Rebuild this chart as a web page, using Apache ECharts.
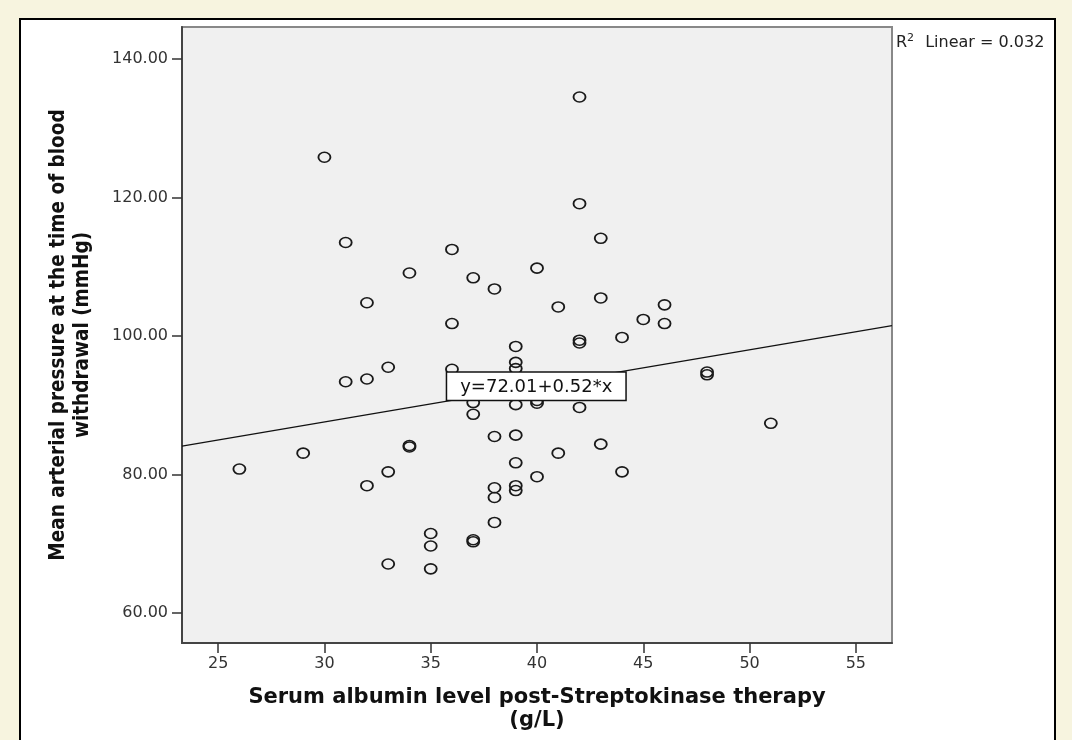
<!DOCTYPE html>
<html>
<head>
<meta charset="utf-8">
<title>Serum albumin vs mean arterial pressure</title>
<script src="https://cdn.jsdelivr.net/npm/echarts@6/dist/echarts.min.js"></script>
<style>
  html, body { margin: 0; padding: 0; background: #f7f4df; }
  #main { width: 1072px; height: 740px; }
</style>
</head>
<body>
<div id="main"></div>
<script>
// 数据：散点（白蛋白 g/L，平均动脉压 mmHg）
var albumin = [
  26, 29, 30, 31, 31, 32, 32, 32, 33, 33, 33, 34, 34, 34,
  35, 35, 35, 36, 36, 36, 37, 37, 37, 37, 37,
  38, 38, 38, 38, 38, 39, 39, 39, 39, 39, 39, 39, 39,
  40, 40, 40, 40, 41, 41, 42, 42, 42, 42, 42,
  43, 43, 43, 44, 44, 45, 46, 46, 48, 48, 51
];
var pressure = [
  80.8, 83.1, 125.8, 113.5, 93.4, 104.8, 93.8, 78.4, 95.5, 80.4, 67.1, 109.1, 84.2, 84.0,
  71.5, 69.7, 66.4, 112.5, 101.8, 95.2, 108.4, 90.4, 88.7, 70.6, 70.3,
  106.8, 85.5, 78.1, 76.7, 73.1, 98.5, 96.2, 95.3, 90.1, 85.7, 81.7, 78.4, 77.7,
  109.8, 90.7, 90.3, 79.7, 104.2, 83.1, 134.5, 119.1, 99.4, 99.0, 89.7,
  114.1, 105.5, 84.4, 99.8, 80.4, 102.4, 104.5, 101.8, 94.8, 94.4, 87.4
];

// 拟合线两端和方程标签位置
var fitX = [23.3, 56.7];
var fitY = [84.1, 101.5];
var eqX = [35.8];
var eqY = [90.6];
var eqText = 'y=72.01+0.52*x';
var r2Text = '0.032';

// 刻度
var xTicks = [25, 30, 35, 40, 45, 50, 55];
var yTicks = [60, 80, 100, 120, 140];

var myChart = echarts.init(document.getElementById('main'));

var points = albumin.map(function (v, i) { return [v, pressure[i]]; });
var fitLine = fitX.map(function (v, i) { return [v, fitY[i]]; });
var eqPoint = eqX.map(function (v, i) { return [v, eqY[i]]; });

var option = {
  backgroundColor: '#f7f4df',
  animation: false,
  textStyle: { fontFamily: 'DejaVu Sans' },
  graphic: [{
    type: 'rect',
    z: -10,
    shape: { x: 20, y: 19, width: 1035, height: 740 },
    style: { fill: '#ffffff', stroke: '#000000', lineWidth: 2 }
  }],
  title: {
    left: 891,
    top: 28,
    text: 'R{sup|2} Linear = ' + r2Text,
    textStyle: {
      fontFamily: 'DejaVu Sans',
      fontSize: 16,
      fontWeight: 'normal',
      color: '#222',
      rich: {
        sup: { fontSize: 11, verticalAlign: 'top', padding: [0, 6, 8, 0], color: '#222' }
      }
    }
  },
  grid: {
    left: 182, top: 27, right: 180, bottom: 97,
    show: true,
    backgroundColor: '#f0f0f0',
    borderColor: '#888',
    borderWidth: 2
  },
  xAxis: {
    type: 'value',
    min: 23.3,
    max: 56.7,
    name: 'Serum albumin level post-Streptokinase therapy\n(g/L)',
    nameLocation: 'middle',
    nameGap: 43,
    nameTextStyle: {
      fontFamily: 'DejaVu Sans', fontWeight: 'bold', fontSize: 21,
      color: '#111', lineHeight: 23
    },
    axisLine: { onZero: false, lineStyle: { color: '#444', width: 2 } },
    axisTick: { show: true, length: 10, customValues: xTicks, lineStyle: { color: '#333', width: 1.5 } },
    axisLabel: { customValues: xTicks, margin: 13, fontSize: 16, color: '#333' },
    splitLine: { show: false }
  },
  yAxis: {
    type: 'value',
    min: 55.7,
    max: 144.6,
    name: 'Mean arterial pressure at the time of blood\nwithdrawal (mmHg)',
    nameLocation: 'middle',
    nameGap: 87,
    nameTextStyle: {
      fontFamily: 'DejaVu Sans Condensed', fontWeight: 'bold', fontSize: 20.5,
      color: '#111', lineHeight: 24
    },
    axisLine: { onZero: false, lineStyle: { color: '#444', width: 2 } },
    axisTick: { show: true, length: 10, customValues: yTicks, lineStyle: { color: '#333', width: 1.5 } },
    axisLabel: {
      customValues: yTicks, margin: 14, fontSize: 16, color: '#333',
      formatter: function (v) { return v.toFixed(2); }
    },
    splitLine: { show: false }
  },
  series: [
    {
      name: 'fit',
      type: 'line',
      data: fitLine,
      symbol: 'none',
      lineStyle: { color: '#111', width: 1.2 },
      z: 2
    },
    {
      name: 'points',
      type: 'scatter',
      data: points,
      symbol: 'circle',
      symbolSize: [12, 10],
      itemStyle: { color: 'rgba(0,0,0,0)', borderColor: '#1a1a1a', borderWidth: 1.7, opacity: 1 },
      z: 3
    },
    {
      name: 'equation',
      type: 'scatter',
      data: eqPoint,
      symbol: 'rect',
      symbolSize: 1,
      itemStyle: { color: 'rgba(0,0,0,0)', opacity: 1 },
      z: 5,
      label: {
        show: true,
        formatter: eqText,
        position: [0, -1],
        align: 'left',
        verticalAlign: 'bottom',
        fontFamily: 'DejaVu Sans',
        fontSize: 18,
        color: '#111',
        backgroundColor: '#ffffff',
        borderColor: '#111',
        borderWidth: 1.5,
        padding: [6, 13, 3, 13]
      }
    }
  ]
};

myChart.setOption(option);
</script>
</body>
</html>
